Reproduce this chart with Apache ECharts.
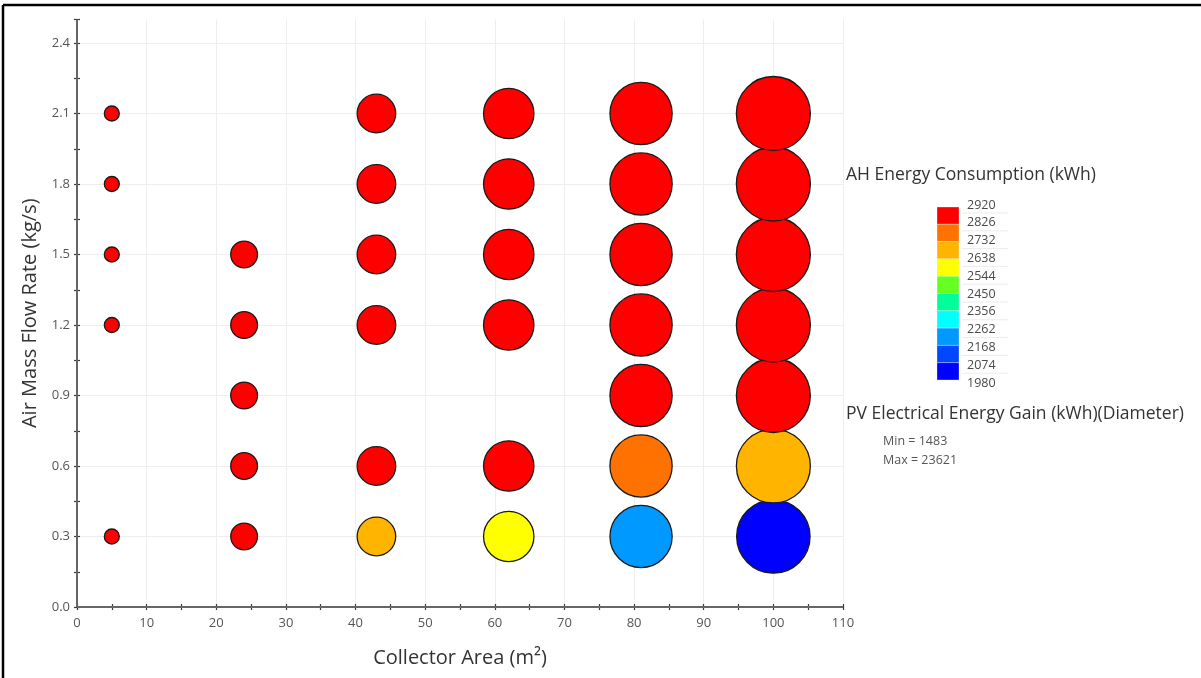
<!DOCTYPE html>
<html>
<head>
<meta charset="utf-8">
<script src="https://cdn.jsdelivr.net/npm/echarts@6/dist/echarts.min.js"></script>
<style>
html,body{margin:0;padding:0;background:#fff;}
#chart{width:1201px;height:678px;}
</style>
</head>
<body>
<div id="chart"></div>
<script>
// ---- data ----
// Collector area (m2), air mass flow rate (kg/s), AH energy consumption (kWh), PV electrical gain (kWh)
const areas      = [5, 5, 5, 5, 5,
                    24, 24, 24, 24, 24,
                    43, 43, 43, 43, 43, 43,
                    62, 62, 62, 62, 62, 62,
                    81, 81, 81, 81, 81, 81, 81,
                    100, 100, 100, 100, 100, 100, 100];
const flowRates  = [0.3, 1.2, 1.5, 1.8, 2.1,
                    0.3, 0.6, 0.9, 1.2, 1.5,
                    0.3, 0.6, 1.2, 1.5, 1.8, 2.1,
                    0.3, 0.6, 1.2, 1.5, 1.8, 2.1,
                    0.3, 0.6, 0.9, 1.2, 1.5, 1.8, 2.1,
                    0.3, 0.6, 0.9, 1.2, 1.5, 1.8, 2.1];
const ahEnergy   = [2905, 2915, 2912, 2914, 2918,
                    2880, 2895, 2900, 2905, 2908,
                    2690, 2860, 2890, 2895, 2900, 2905,
                    2590, 2845, 2880, 2888, 2895, 2900,
                    2210, 2780, 2850, 2870, 2880, 2890, 2895,
                    2020, 2690, 2835, 2860, 2875, 2885, 2890];
const pvGain     = [1483, 1483, 1483, 1483, 1483,
                    5900, 5910, 5910, 5910, 5910,
                    10330, 10340, 10340, 10340, 10340, 10340,
                    14760, 14770, 14770, 14770, 14770, 14770,
                    19190, 19200, 19200, 19200, 19200, 19200, 19200,
                    23400, 23600, 23610, 23615, 23618, 23620, 23621];
const colorBounds = [1980, 2074, 2168, 2262, 2356, 2450, 2544, 2638, 2732, 2826, 2920];
const bandColors  = ['#0000FF', '#0048FF', '#0099FF', '#00FFFF', '#00FF99', '#66FF22', '#FFFF00', '#FFB400', '#FF7200', '#FF0000'];
const xTicks = [0, 10, 20, 30, 40, 50, 60, 70, 80, 90, 100, 110];
const yTicks = [0.0, 0.3, 0.6, 0.9, 1.2, 1.5, 1.8, 2.1, 2.4];

// ---- build ----
const points = areas.map((a, i) => [a, flowRates[i], ahEnergy[i], pvGain[i]]);
const pvMin = Math.min(...pvGain), pvMax = Math.max(...pvGain);
const pieces = bandColors.map((c, i) => ({ gte: colorBounds[i], lt: colorBounds[i + 1] + (i === bandColors.length - 1 ? 1 : 0), color: c }));

const FONT = '"Open Sans", "DejaVu Sans", sans-serif';
const axisCol = '#666';
const tickCol = '#3a3a3a';

// legend graphics
const legendEls = [];
const swX = 937, swY = 207, swW = 22, swH = 17.3;
const nBands = bandColors.length;
for (let i = 0; i < nBands; i++) {
  legendEls.push({ type: 'rect', shape: { x: swX, y: swY + i * swH, width: swW, height: swH },
    style: { fill: bandColors[nBands - 1 - i], stroke: 'rgba(255,255,255,0.6)', lineWidth: 0.5 } });
}
for (let i = 0; i < colorBounds.length; i++) {
  const ly = 205 + i * 17.8;
  if (i < colorBounds.length - 1) {
    legendEls.push({ type: 'line', shape: { x1: 962, y1: ly + 8, x2: 1008, y2: ly + 8 }, style: { stroke: '#ececec', lineWidth: 1 } });
  }
  legendEls.push({ type: 'text', x: 967, y: ly,
    style: { text: String(colorBounds[colorBounds.length - 1 - i]), fill: '#4a4a4a', font: '12.5px ' + FONT, textVerticalAlign: 'middle' } });
}
legendEls.push({ type: 'text', x: 846, y: 175, style: { text: 'AH Energy Consumption (kWh)', fill: '#333', font: '17.5px ' + FONT, textVerticalAlign: 'middle', backgroundColor: '#fff' } });
legendEls.push({ type: 'text', x: 846, y: 414, style: { text: 'PV Electrical Energy Gain (kWh)(Diameter)', fill: '#333', font: '17.5px ' + FONT, textVerticalAlign: 'middle', backgroundColor: '#fff' } });
legendEls.push({ type: 'text', x: 883, y: 441, style: { text: 'Min = ' + pvMin, fill: '#555', font: '12.5px ' + FONT, textVerticalAlign: 'middle' } });
legendEls.push({ type: 'text', x: 883, y: 460, style: { text: 'Max = ' + pvMax, fill: '#555', font: '12.5px ' + FONT, textVerticalAlign: 'middle' } });
// frame
legendEls.push({ type: 'line', shape: { x1: 3, y1: 5, x2: 1201, y2: 5 }, style: { stroke: '#000', lineWidth: 2.5 } });
legendEls.push({ type: 'line', shape: { x1: 3, y1: 5, x2: 3, y2: 678 }, style: { stroke: '#000', lineWidth: 2.5 } });

const chart = echarts.init(document.getElementById('chart'), null, { renderer: 'canvas' });
chart.setOption({
  backgroundColor: '#fff',
  animation: false,
  textStyle: { fontFamily: FONT },
  grid: { left: 77, right: 358, top: 19.5, bottom: 71, containLabel: false },
  xAxis: {
    type: 'value', min: xTicks[0], max: xTicks[xTicks.length - 1], interval: 10,
    offset: -3,
    name: 'Collector Area (m²)', nameLocation: 'middle', nameGap: 44,
    nameTextStyle: { fontSize: 20, color: '#333', fontFamily: FONT },
    axisLine: { show: false, onZero: false },
    axisTick: { show: true, length: 6, lineStyle: { color: tickCol, width: 1.2 } },
    minorTick: { show: true, splitNumber: 2, length: 6, lineStyle: { color: tickCol, width: 1.2 } },
    axisLabel: { color: '#555', fontSize: 13, margin: 13, fontFamily: FONT, formatter: v => (xTicks.indexOf(v) >= 0 ? String(v) : '') },
    splitLine: { show: true, lineStyle: { color: '#eeeeee', width: 1 } }
  },
  yAxis: {
    type: 'value', min: 0, max: 2.5, interval: 0.3,
    offset: -3,
    name: 'Air Mass Flow Rate (kg/s)', nameLocation: 'middle', nameGap: 40,
    nameTextStyle: { fontSize: 20, color: '#333', fontFamily: FONT },
    axisLine: { show: false, onZero: false },
    axisTick: { show: true, length: 6, lineStyle: { color: tickCol, width: 1.2 } },
    minorTick: { show: true, splitNumber: 2, length: 6, lineStyle: { color: tickCol, width: 1.2 } },
    axisLabel: { color: '#555', fontSize: 13, margin: 10, fontFamily: FONT, showMaxLabel: false,
      formatter: v => { const t = yTicks.find(k => Math.abs(k - v) < 1e-6); return t === undefined ? '' : t.toFixed(1); } },
    splitLine: { show: true, showMaxLine: false, lineStyle: { color: '#eeeeee', width: 1 } }
  },
  visualMap: {
    type: 'piecewise', show: false, dimension: 2, seriesIndex: 0, pieces: pieces
  },
  series: [{
    type: 'scatter',
    data: points,
    symbol: 'circle',
    symbolSize: v => 15 + (v[3] - pvMin) / (pvMax - pvMin) * 59,
    itemStyle: { borderColor: '#1a1a1a', borderWidth: 1.3, opacity: 1 },
    z: 5,
    markLine: {
      silent: true, symbol: 'none', animation: false, z: 3,
      label: { show: false },
      lineStyle: { color: axisCol, width: 2, type: 'solid' },
      emphasis: { disabled: true },
      data: [{ yAxis: 0 }, { xAxis: 0 }]
    }
  }],
  graphic: { elements: legendEls }
});
</script>
</body>
</html>
